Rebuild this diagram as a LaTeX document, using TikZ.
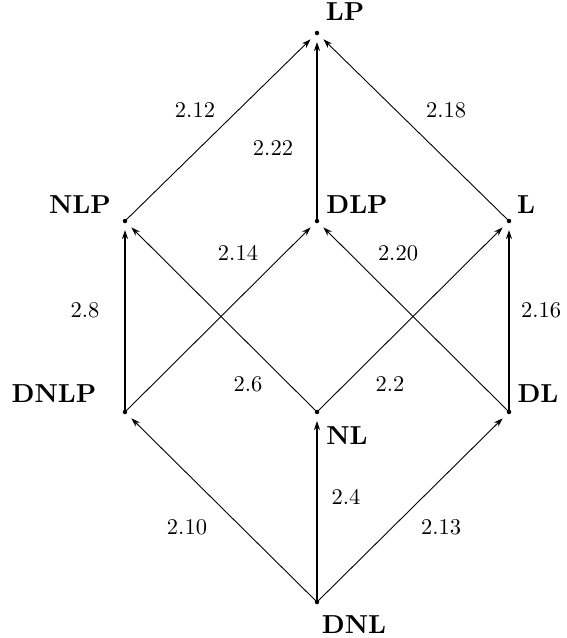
\documentclass[tikz,border=0pt]{standalone}
\usepackage{graphicx}
\usetikzlibrary{arrows.meta}
% text set at 10pt design size and enlarged
\newcommand{\vtx}[1]{\scalebox{2.6}{\fontsize{10}{12}\selectfont\bfseries #1}}
\newcommand{\thm}[1]{\scalebox{2.25}{\fontsize{10}{12}\selectfont #1}}
\begin{document}
\begin{tikzpicture}[x=1pt,y=-1pt,
  pt/.style={circle,fill,inner sep=0pt,minimum size=4.5pt},
  lab/.style={inner sep=0pt},
  num/.style={inner sep=0pt},
  arr/.style={-{Stealth[length=9pt,width=6pt]},shorten >=9pt,line width=0.9pt},
  mid/.style={arr,line width=1.6pt},
  thick arr/.style={arr,line width=2.6pt}]
\useasboundingbox (0,0) rectangle (566,638);
% lattice points
\node[pt] (LP)   at (317,33)  {};
\node[pt] (NLP)  at (125,221) {};
\node[pt] (DLP)  at (317,221) {};
\node[pt] (L)    at (509,221) {};
\node[pt] (DNLP) at (125,412) {};
\node[pt] (NL)   at (317,412) {};
\node[pt] (DL)   at (509,412) {};
\node[pt] (DNL)  at (317,602) {};
% names
\node[lab] (tLP)   at (345,12)  {\vtx{LP}};
\node[lab] (tNLP)  at (80,205)  {\vtx{NLP}};
\node[lab] (tDLP)  at (357,205) {\vtx{DLP}};
\node[lab] (tL)    at (526,205) {\vtx{L}};
\node[lab] (tDNLP) at (54,394)  {\vtx{DNLP}};
\node[lab] (tNL)   at (347,436) {\vtx{NL}};
\node[lab] (tDL)   at (538,394) {\vtx{DL}};
\node[lab] (tDNL)  at (354,625) {\vtx{DNL}};
% implications
\draw[arr] (NLP.center) -- (LP.center);
\draw[thick arr] (DLP.center) -- (LP.center);
\draw[arr] (L.center) -- (LP.center);
\draw[mid] (DNLP.center) -- (NLP.center);
\draw[arr] (DNLP.center) -- (DLP.center);
\draw[arr] (NL.center) -- (NLP.center);
\draw[arr] (NL.center) -- (L.center);
\draw[arr] (DL.center) -- (DLP.center);
\draw[mid] (DL.center) -- (L.center);
\draw[arr] (DNL.center) -- (DNLP.center);
\draw[thick arr] (DNL.center) -- (NL.center);
\draw[arr] (DNL.center) -- (DL.center);
% edge labels
\node[num] (n212) at (195,110) {\thm{2.12}};
\node[num] (n222) at (273,148) {\thm{2.22}};
\node[num] (n218) at (446,110) {\thm{2.18}};
\node[num] (n214) at (238,253) {\thm{2.14}};
\node[num] (n220) at (398,253) {\thm{2.20}};
\node[num] (n28)  at (85,310)  {\thm{2.8}};
\node[num] (n216) at (541,310) {\thm{2.16}};
\node[num] (n26)  at (248,384) {\thm{2.6}};
\node[num] (n22)  at (390,384) {\thm{2.2}};
\node[num] (n210) at (187,527) {\thm{2.10}};
\node[num] (n24)  at (346,497) {\thm{2.4}};
\node[num] (n213) at (441,527) {\thm{2.13}};
\end{tikzpicture}
\end{document}
